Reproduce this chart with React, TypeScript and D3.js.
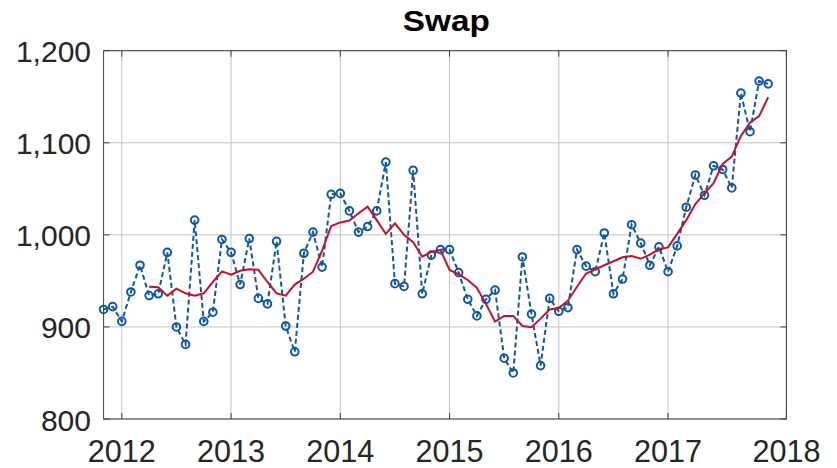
import React from "react";
import * as d3 from "d3";

// monthly values, Nov 2011 .. Dec 2017
const swap = [
  919, 922, 906, 938, 967, 934, 936, 981, 900, 881,
  1016, 906, 916, 995, 981, 946, 996, 931, 925, 993,
  901, 873, 980, 1003, 965, 1044, 1045, 1026, 1003, 1009,
  1026, 1079, 947, 944, 1070, 936, 978, 984, 984, 959,
  930, 912, 930, 940, 866, 850, 976, 914, 858, 931,
  917, 921, 984, 966, 960, 1002, 936, 952, 1011, 991,
  967, 987, 960, 988, 1030, 1065, 1043, 1075, 1071, 1051,
  1154, 1112, 1167, 1164,
];

// moving average, starts at the 6th month
const avgStart = 5;
const swapAvg = [
  943.7, 943, 934, 941.5, 936.5, 934, 936.5, 948.8, 960.4, 956.7,
  961, 962.6, 962, 948.8, 936.5, 934, 946, 952.4, 960, 982.8,
  1009.6, 1013.5, 1015.5, 1023.4, 1030.6, 1016, 1001, 1012.5, 1000, 992,
  976.3, 981.4, 983.6, 961.8, 957, 951, 942.5, 925, 905.7, 912,
  912, 901, 899.6, 909, 919, 920.6, 928.5, 943.7, 958, 962.6,
  967, 971.3, 975.6, 977, 974, 978.5, 984.3, 986.4, 1001, 1016,
  1033.5, 1045, 1056, 1077, 1085, 1107.4, 1121.8, 1129, 1149.4,
];

const yearLabels = ["2012", "2013", "2014", "2015", "2016", "2017", "2018"];
const yearTickIdx = [2, 14, 26, 38, 50, 62, 75];
const yTicks = [800, 900, 1000, 1100, 1200];

const W = 837;
const H = 468;
const left = 103.6;
const right = 786.4;
const top = 50.7;
const bottom = 419;

const textColor = "#262626";
const font = "'Liberation Sans', Arial, Helvetica, sans-serif";

export default function App() {
  const x = d3.scaleLinear().domain([0, 75]).range([left, right]);
  const y = d3.scaleLinear().domain([800, 1200]).range([bottom, top]);

  const line = d3
    .line<number>()
    .x((d, i) => x(i))
    .y((d) => y(d));

  const avgLine = d3
    .line<number>()
    .x((d, i) => x(i + avgStart))
    .y((d) => y(d));

  const fmt = d3.format(",");

  return (
    <svg
      width={W}
      height={H}
      style={{ position: "absolute", left: 0, top: 0, background: "#fff" }}
    >
      <rect x={0} y={0} width={W} height={H} fill="#fff" />

      {/* grid */}
      <g stroke="#c4c4c4" strokeWidth={1}>
        {yearTickIdx.map((t) => (
          <line key={"gx" + t} x1={x(t)} x2={x(t)} y1={top} y2={bottom} />
        ))}
        {yTicks.map((t) => (
          <line key={"gy" + t} x1={left} x2={right} y1={y(t)} y2={y(t)} />
        ))}
      </g>

      {/* data */}
      <path
        d={line(swap) ?? ""}
        fill="none"
        stroke="#0e57a6"
        strokeWidth={2}
        strokeDasharray="5,3"
      />
      <g fill="none" stroke="#0e57a6" strokeWidth={2}>
        {swap.map((d, i) => (
          <circle key={i} cx={x(i)} cy={y(d)} r={3.8} />
        ))}
      </g>
      <path
        d={avgLine(swapAvg) ?? ""}
        fill="none"
        stroke="#c8102e"
        strokeWidth={2}
      />

      {/* box and ticks */}
      <rect
        x={left}
        y={top}
        width={right - left}
        height={bottom - top}
        fill="none"
        stroke="#404040"
        strokeWidth={1}
      />
      <g stroke="#404040" strokeWidth={1}>
        {yearTickIdx.map((t) => (
          <g key={"tx" + t}>
            <line x1={x(t)} x2={x(t)} y1={bottom} y2={bottom - 6} />
            <line x1={x(t)} x2={x(t)} y1={top} y2={top + 6} />
          </g>
        ))}
        {yTicks.map((t) => (
          <g key={"ty" + t}>
            <line x1={left} x2={left + 6} y1={y(t)} y2={y(t)} />
            <line x1={right} x2={right - 6} y1={y(t)} y2={y(t)} />
          </g>
        ))}
      </g>

      {/* tick labels */}
      <g fill={textColor} fontFamily={font} fontSize={30}>
        {yTicks.map((t) => (
          <text key={"ly" + t} x={91} y={y(t) + 11.5} textAnchor="end">
            {fmt(t)}
          </text>
        ))}
      </g>
      <g fill={textColor} fontFamily={font} fontSize={32}>
        {yearTickIdx.map((t, i) => (
          <text
            key={"lx" + t}
            x={x(t)}
            y={461.5}
            textAnchor="middle"
            textLength={68}
            lengthAdjust="spacingAndGlyphs"
          >
            {yearLabels[i]}
          </text>
        ))}
      </g>

      <text
        x={446.3}
        y={31}
        textAnchor="middle"
        fontFamily={font}
        fontWeight="bold"
        fontSize={29}
        textLength={87}
        lengthAdjust="spacingAndGlyphs"
        fill="#000"
      >
        Swap
      </text>
    </svg>
  );
}
